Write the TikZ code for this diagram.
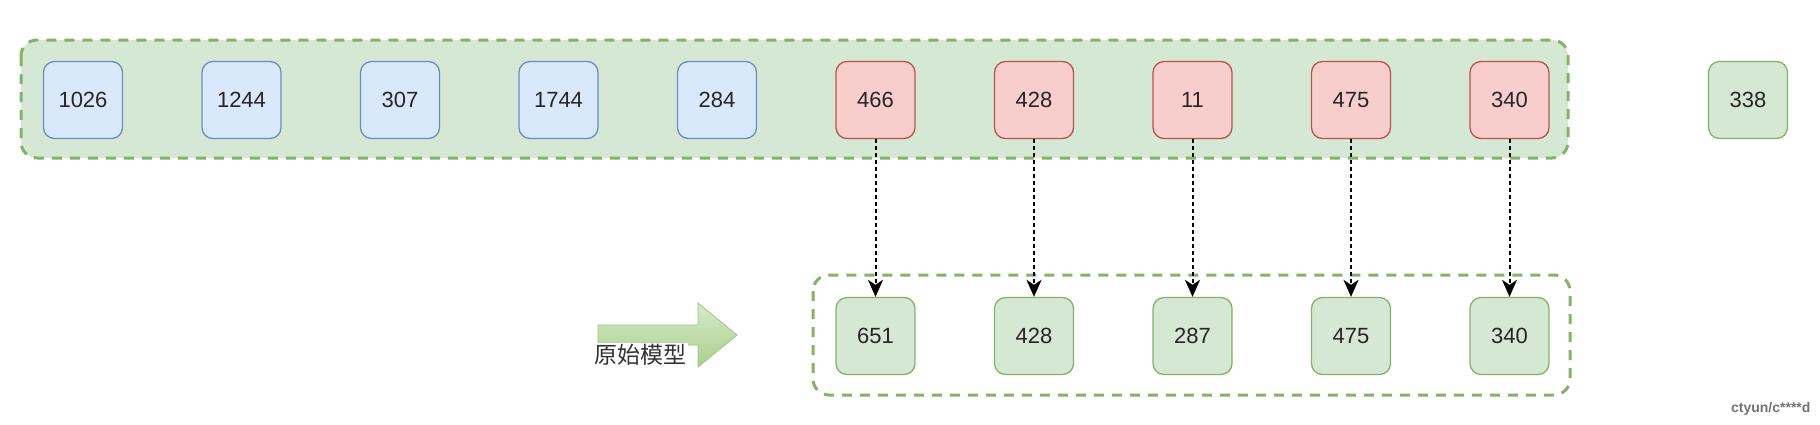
\documentclass[tikz,border=0pt]{standalone}
\usepackage{fontspec}
\setmainfont{Liberation Sans}
\newfontfamily\cjk{Noto Sans CJK SC}
\usetikzlibrary{arrows.meta}
\definecolor{gfill}{HTML}{D5E8D4}
\definecolor{gline}{HTML}{82B366}
\definecolor{bfill}{HTML}{DAE8FC}
\definecolor{bline}{HTML}{6C8EBF}
\definecolor{rfill}{HTML}{F8CECC}
\definecolor{rline}{HTML}{B85450}
\definecolor{arrowT}{HTML}{D6EACB}
\definecolor{arrowB}{HTML}{A8D08D}
\definecolor{arrowE}{HTML}{9CC582}
\tikzset{
  cell/.style={rounded corners=11pt, minimum width=79pt, minimum height=77pt, line width=1.3pt, font=\fontsize{22pt}{25pt}\selectfont, text=black!85},
  bluecell/.style={cell, fill=bfill, draw=bline},
  redcell/.style={cell, fill=rfill, draw=rline},
  greencell/.style={cell, fill=gfill, draw=gline},
  groupbox/.style={draw=gline, line width=3pt, dash pattern=on 10pt off 8pt, rounded corners=16pt},
  flow/.style={draw=black, line width=2pt, dash pattern=on 4pt off 3pt, -{Stealth[width=15pt,length=17pt,inset=5pt]}}
}
\begin{document}
\begin{tikzpicture}[x=1pt,y=-1pt]
\useasboundingbox (0,0) rectangle (1820,424);
% containers
\draw[groupbox, fill=gfill] (21,40) rectangle (1568,158);
\draw[groupbox] (813,275) rectangle (1570,395);
% top row
\node[bluecell] (t1) at (83,100) {1026};
\node[bluecell] (t2) at (241.5,100) {1244};
\node[bluecell] (t3) at (400,100) {307};
\node[bluecell] (t4) at (558.5,100) {1744};
\node[bluecell] (t5) at (717,100) {284};
\node[redcell] (t6) at (875.5,100) {466};
\node[redcell] (t7) at (1034,100) {428};
\node[redcell] (t8) at (1192.5,100) {11};
\node[redcell] (t9) at (1351,100) {475};
\node[redcell] (t10) at (1509.5,100) {340};
\node[greencell] (x) at (1748,100) {338};
% bottom row
\node[greencell] (b1) at (875.5,336) {651};
\node[greencell] (b2) at (1034,336) {428};
\node[greencell] (b3) at (1192.5,336) {287};
\node[greencell] (b4) at (1351,336) {475};
\node[greencell] (b5) at (1509.5,336) {340};
% connectors
\draw[flow] (t6) -- (b1);
\draw[flow] (t7) -- (b2);
\draw[flow] (t8) -- (b3);
\draw[flow] (t9) -- (b4);
\draw[flow] (t10) -- (b5);
% block arrow
\shade[top color=arrowT, bottom color=arrowB, draw=arrowE, line width=0.8pt] (598,325) -- (698,325) -- (698,303) -- (737,335) -- (698,367) -- (698,345) -- (598,345) -- cycle;
\node[fill=white, inner sep=1.5pt, font=\cjk\fontsize{23pt}{26pt}\selectfont, text=black!80] (lbl) at (640,355) {原始模型};
% watermark
\node[font=\fontsize{14pt}{16pt}\selectfont\bfseries, text=black!55, anchor=east] (wm) at (1814,409) {ctyun/c****d};
\end{tikzpicture}
\end{document}
